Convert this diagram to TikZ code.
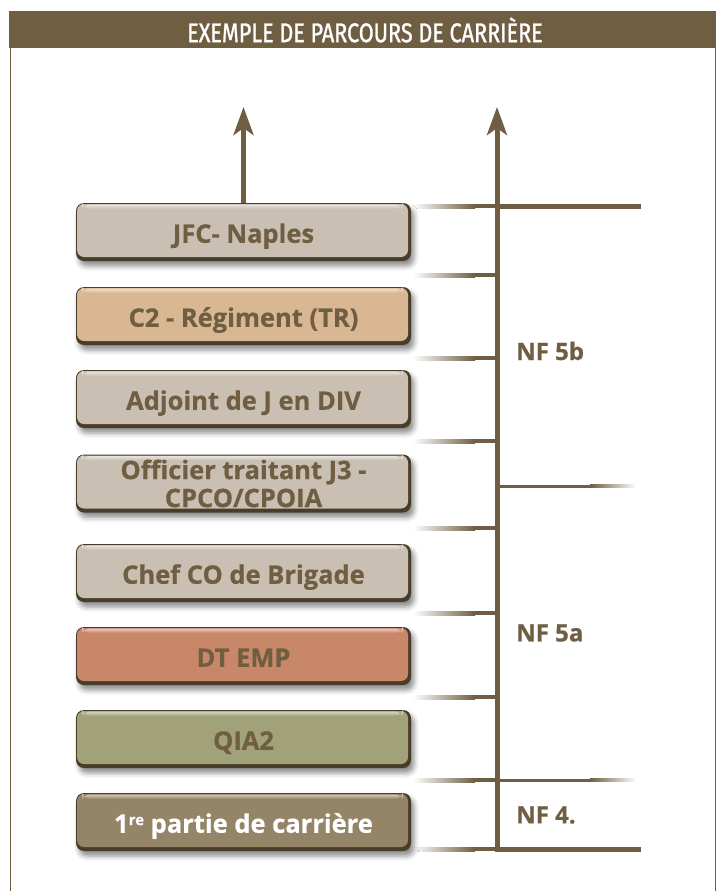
\documentclass[tikz,border=0pt]{standalone}
\usepackage{fontspec}
\usepackage{graphicx}
\setmainfont{Open Sans}[BoldFont={Open Sans Bold},BoldFeatures={FakeBold=0.6}]
\newfontfamily\titlefont{Fira Sans}[FakeBold=1.3]
\usetikzlibrary{arrows.meta,shadows.blur}
\definecolor{brn}{RGB}{111,94,66}
\definecolor{edgecol}{RGB}{72,60,42}
\definecolor{cgray}{RGB}{201,191,179}
\definecolor{ctan}{RGB}{217,183,147}
\definecolor{csal}{RGB}{201,135,106}
\definecolor{colive}{RGB}{161,162,122}
\definecolor{cbrown}{RGB}{148,132,104}
\tikzset{
  careerbox/.style={
    rounded corners=8pt, minimum width=335pt, minimum height=58pt, inner sep=0pt,
    fill=edgecol, align=center, text=brn,
    font=\bfseries\fontsize{25.5}{28}\selectfont,
    blur shadow={shadow xshift=3pt, shadow yshift=-5pt, shadow blur radius=5pt, shadow opacity=45},
    path picture={
      \fill[#1, rounded corners=7pt]
        ([xshift=1pt,yshift=-1pt]path picture bounding box.north west) rectangle
        ([xshift=-3pt,yshift=4pt]path picture bounding box.south east);
      \shade[top color=white!55!#1, bottom color=#1]
        ([xshift=6pt,yshift=-1.5pt]path picture bounding box.north west) rectangle
        ([xshift=-8pt,yshift=-6pt]path picture bounding box.north east);
    }
  },
  oneline/.style={text height=21.5pt, text depth=0pt},
  nflabel/.style={anchor=west, text=brn, inner sep=0pt, font=\bfseries\fontsize{24}{24}\selectfont},
  tip/.style={-{Stealth[length=28pt,width=20pt,inset=7pt]}}
}
\begin{document}
\begin{tikzpicture}[x=1pt,y=-1pt]
\useasboundingbox (0,0) rectangle (716,891);
% frame
\fill[brn] (9,11) rectangle (716,48);
\draw[brn, line width=1pt] (10,48) -- (10,891);
\draw[brn, line width=1pt] (715,48) -- (715,891);
\node[text=white, inner sep=0pt, font=\titlefont\fontsize{27}{27}\selectfont] (title) at (365,30)
  {\scalebox{0.8}[1]{EXEMPLE DE PARCOURS DE CARRIÈRE}};

% horizontal level lines (left part, gradient)
\foreach \yy in {206,275,358,441,528,613,697,780,849} {
  \shade[left color=white, right color=brn] (413,\yy-2) rectangle (475,\yy+2);
  \fill[brn] (475,\yy-2) rectangle (497,\yy+2);
}
% right parts
\fill[brn] (497,203.5) rectangle (641,208.5);
\fill[brn] (497,846.5) rectangle (641,851.5);
\foreach \yy in {486,780} {
  \fill[brn] (497,\yy-1.5) rectangle (590,\yy+1.5);
  \shade[left color=brn, right color=white] (590,\yy-1.5) rectangle (636,\yy+1.5);
}

% boxes
\node[careerbox=cgray, oneline]  (jfc)  at (243.5,232) {JFC- Naples};
\node[careerbox=ctan, oneline]   (c2)   at (243.5,316) {C2 - Régiment (TR)};
\node[careerbox=cgray, oneline]  (adj)  at (243.5,399) {Adjoint de J en DIV};
\node[careerbox=cgray]           (off)  at (243.5,483.5) {Officier traitant J3 -\\CPCO/CPOIA};
\node[careerbox=cgray, oneline]  (chef) at (243.5,573) {Chef CO de Brigade};
\node[careerbox=csal, oneline]   (dt)   at (243.5,656) {DT EMP};
\node[careerbox=colive, oneline] (qia)  at (243.5,739) {QIA2};
\node[careerbox=cbrown, oneline, text=white] (first) at (243.5,822) {1\raisebox{0.55ex}{\fontsize{15}{15}\selectfont re} partie de carrière};

% arrows
\coordinate (ltop) at (243.5,107);
\draw[brn, line width=5pt, tip] (jfc.north) -- (ltop);
\coordinate (vbot) at (497,851.5);
\coordinate (vtop) at (497,107);
\draw[brn, line width=5pt, tip] (vbot) -- (vtop);

% level labels
\node[nflabel] (nf5b) at (516,351) {NF 5b};
\node[nflabel] (nf5a) at (516,633) {NF 5a};
\node[nflabel] (nf4)  at (516,815) {NF 4.};
\end{tikzpicture}
\end{document}
